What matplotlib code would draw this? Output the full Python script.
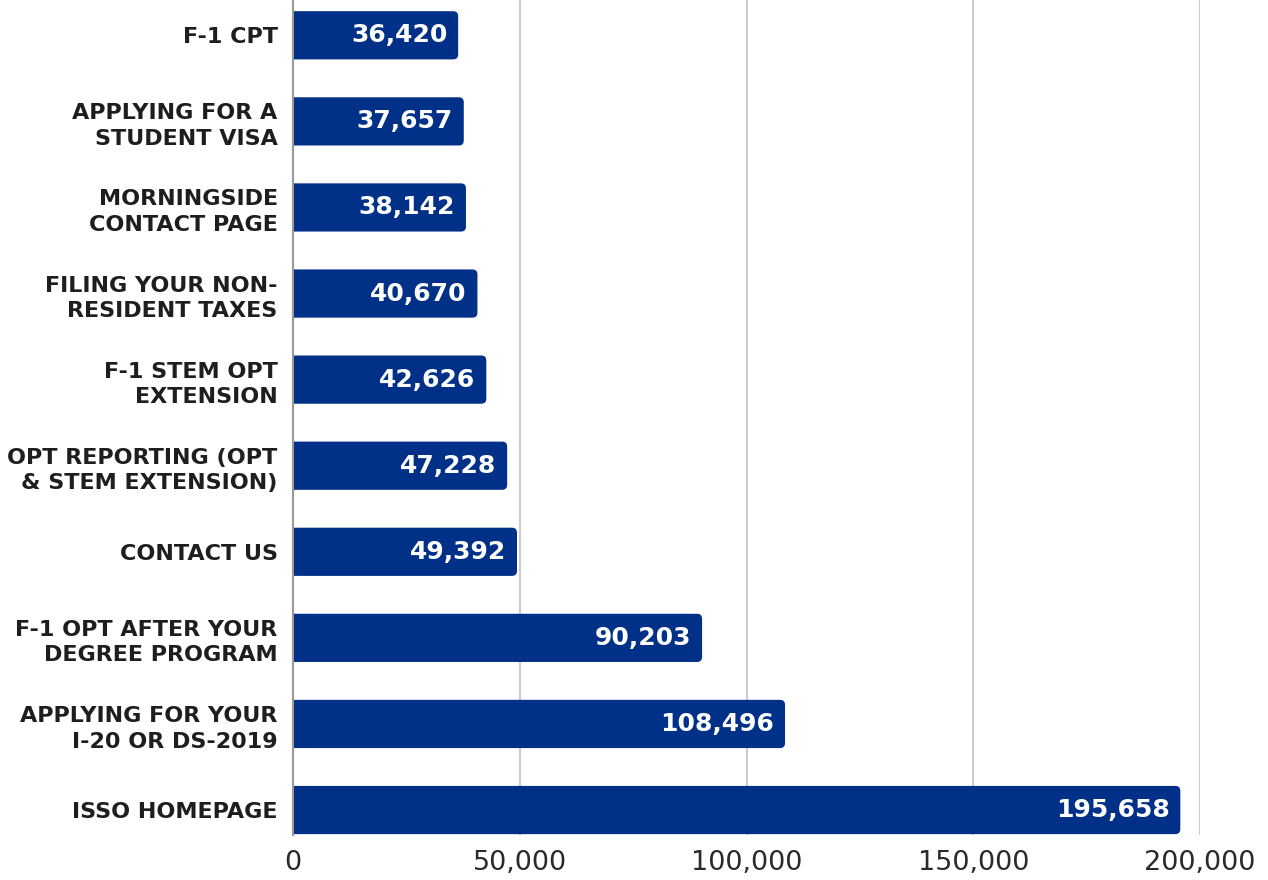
import matplotlib.pyplot as plt
from matplotlib.patches import FancyBboxPatch
from matplotlib.ticker import FuncFormatter

# top to bottom, as shown in the chart
pages = [
    "F-1 CPT",
    "APPLYING FOR A\nSTUDENT VISA",
    "MORNINGSIDE\nCONTACT PAGE",
    "FILING YOUR NON-\nRESIDENT TAXES",
    "F-1 STEM OPT\nEXTENSION",
    "OPT REPORTING (OPT\n& STEM EXTENSION)",
    "CONTACT US",
    "F-1 OPT AFTER YOUR\nDEGREE PROGRAM",
    "APPLYING FOR YOUR\nI-20 OR DS-2019",
    "ISSO HOMEPAGE",
]
views = [36420, 37657, 38142, 40670, 42626, 47228, 49392, 90203, 108496, 195658]
xticks = [0, 50000, 100000, 150000, 200000]

bar_color = "#003087"
plt.rcParams['font.family'] = ['DejaVu Sans']

fig = plt.figure(figsize=(12.68, 8.8), dpi=100)
ax = fig.add_axes([293 / 1268, 1 - 835 / 880, 907 / 1268, 835 / 880])

ypos = list(range(len(pages) - 1, -1, -1))
bars = ax.barh(ypos, views, height=0.56, color=bar_color, zorder=3)

ax.set_xlim(0, 200000)
ax.set_ylim(-0.29, 9.41)

# swap the plain rectangles for ones with rounded right corners
px_x = 907 / 200000
px_y = 835 / (9.41 + 0.29)
r = 5
for rect in bars:
    x, y = rect.get_x(), rect.get_y()
    w, h = rect.get_width(), rect.get_height()
    rect.set_visible(False)
    rx = r / px_x
    patch = FancyBboxPatch((x - 3 * rx, y), w + 3 * rx, h,
                           boxstyle=f"round,pad=0,rounding_size={rx}",
                           mutation_aspect=(r / px_y) / rx,
                           facecolor=bar_color, edgecolor="none", zorder=3)
    ax.add_patch(patch)
    ax.text(x + w - 2400, y + h / 2, f"{w:,.0f}", ha="right", va="center",
            color="white", fontsize=18, fontweight="bold", zorder=4)

ax.set_yticks(ypos)
ax.set_yticklabels(pages, fontsize=16, fontweight="bold", color="#1e1e1e",
                   linespacing=1.35)
ax.set_xticks(xticks)
ax.xaxis.set_major_formatter(FuncFormatter(lambda v, p: f"{v:,.0f}"))
ax.tick_params(axis="x", length=0, labelsize=19.5, labelcolor="#2a2a2a", pad=11)
ax.tick_params(axis="y", length=0, pad=11)

ax.grid(axis="x", color="#cccccc", linewidth=1.5, zorder=0)
for s in ["top", "right", "bottom"]:
    ax.spines[s].set_visible(False)
ax.spines["left"].set_color("#999999")
ax.spines["left"].set_linewidth(1.5)
ax.spines["left"].set_zorder(5)

fig.savefig("out.png", dpi=100, facecolor="white")
